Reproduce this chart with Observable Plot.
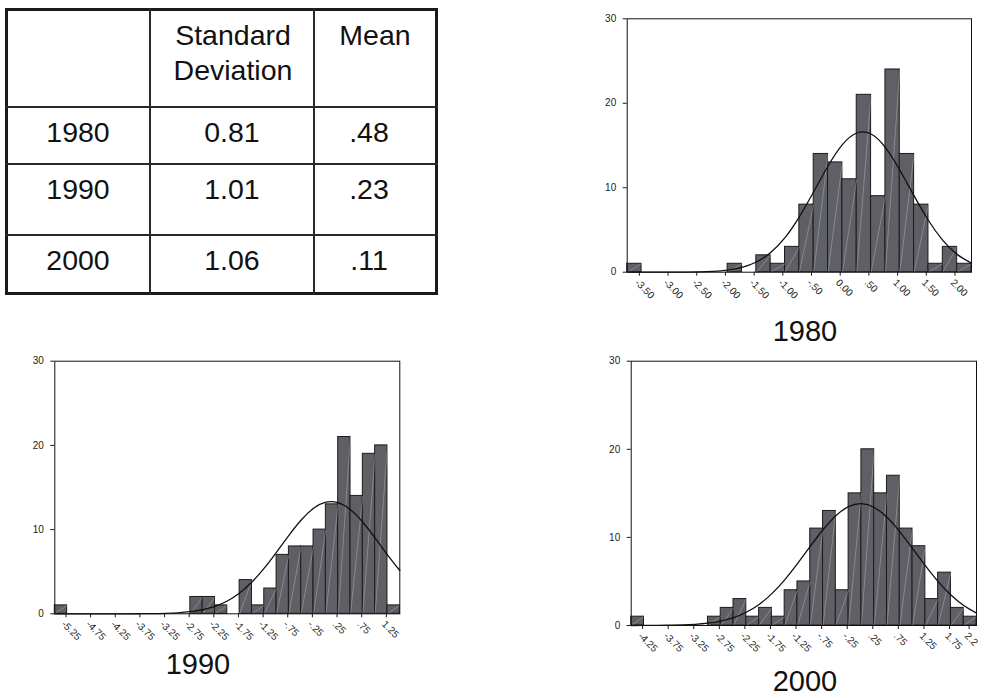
<!DOCTYPE html>
<html>
<head>
<meta charset="utf-8">
<script src="https://cdn.jsdelivr.net/npm/d3@7"></script>
<script src="https://cdn.jsdelivr.net/npm/@observablehq/plot@0.6"></script>
<style>
  html, body { margin: 0; padding: 0; background: #fff; }
  body { font-family: "Liberation Sans", Arial, Helvetica, sans-serif; color: #111; }
  #page { position: relative; width: 986px; height: 698px; overflow: hidden; background: #fff; }
  #tbl { position: absolute; left: 5px; top: 8px; width: 433px; height: 287px; box-sizing: border-box; border: 3px solid #1a1a1a; }
  .vline { position: absolute; top: 8px; height: 287px; width: 1.5px; background: #2a2a2a; }
  .hline { position: absolute; left: 5px; width: 433px; height: 1.5px; background: #2a2a2a; }
  .cell { position: absolute; font-size: 28.5px; line-height: 35px; text-align: center; white-space: nowrap; width: 200px; }
  .yearlab { position: absolute; font-size: 29px; line-height: 29px; width: 200px; text-align: center; }
</style>
</head>
<body>
<div id="page"></div>
<script>
// ---- table data ----
const years = ["1980", "1990", "2000"];
const stdDevs = ["0.81", "1.01", "1.06"];
const means = [".48", ".23", ".11"];
const headerSD = ["Standard", "Deviation"];
const headerMean = "Mean";

// ---- histogram data (bin width 0.25) ----
const binWidth = 0.25;

const centers1980 = [-3.5,-3.25,-3,-2.75,-2.5,-2.25,-2,-1.75,-1.5,-1.25,-1,-0.75,-0.5,-0.25,0,0.25,0.5,0.75,1,1.25,1.5,1.75,2,2.25];
const counts1980  = [1,0,0,0,0,0,0,1,0,2,1,3,8,14,13,11,21,9,24,14,8,1,3,1];
const ticks1980   = [-3.5,-3,-2.5,-2,-1.5,-1,-0.5,0,0.5,1,1.5,2];
const labels1980  = ["-3.50","-3.00","-2.50","-2.00","-1.50","-1.00","-.50","0.00",".50","1.00","1.50","2.00"];
const curveX1980  = [-3.625,-3.375,-3.125,-2.875,-2.625,-2.375,-2.125,-1.875,-1.625,-1.375,-1.125,-0.875,-0.625,-0.375,-0.125,0.125,0.375,0.625,0.875,1.125,1.375,1.625,1.875,2.125,2.375];
const curveY1980  = [0,0,0,0,0.01,0.03,0.09,0.24,0.57,1.21,2.33,4.10,6.56,9.52,12.57,15.10,16.48,16.36,14.76,12.10,9.03,6.12,3.77,2.11,1.08];

const centers1990 = [-5.25,-5,-4.75,-4.5,-4.25,-4,-3.75,-3.5,-3.25,-3,-2.75,-2.5,-2.25,-2,-1.75,-1.5,-1.25,-1,-0.75,-0.5,-0.25,0,0.25,0.5,0.75,1,1.25,1.5];
const counts1990  = [1,0,0,0,0,0,0,0,0,0,0,2,2,1,0,4,1,3,7,8,8,10,13,21,14,19,20,1];
const ticks1990   = [-5.25,-4.75,-4.25,-3.75,-3.25,-2.75,-2.25,-1.75,-1.25,-0.75,-0.25,0.25,0.75,1.25];
const labels1990  = ["-5.25","-4.75","-4.25","-3.75","-3.25","-2.75","-2.25","-1.75","-1.25","-.75","-.25",".25",".75","1.25"];
const curveX1990  = [-5.375,-5.125,-4.875,-4.625,-4.375,-4.125,-3.875,-3.625,-3.375,-3.125,-2.875,-2.625,-2.375,-2.125,-1.875,-1.625,-1.375,-1.125,-0.875,-0.625,-0.375,-0.125,0.125,0.375,0.625,0.875,1.125,1.375,1.625];
const curveY1990  = [0,0,0,0,0,0,0,0.01,0.02,0.05,0.12,0.25,0.48,0.88,1.52,2.47,3.77,5.42,7.33,9.32,11.14,12.53,13.26,13.19,12.35,10.87,9.00,7.01,5.14];

const centers2000 = [-4.25,-4,-3.75,-3.5,-3.25,-3,-2.75,-2.5,-2.25,-2,-1.75,-1.5,-1.25,-1,-0.75,-0.5,-0.25,0,0.25,0.5,0.75,1,1.25,1.5,1.75,2,2.25];
const counts2000  = [1,0,0,0,0,0,1,2,3,1,2,1,4,5,11,13,4,15,20,15,17,11,9,3,6,2,1];
const ticks2000   = [-4.25,-3.75,-3.25,-2.75,-2.25,-1.75,-1.25,-0.75,-0.25,0.25,0.75,1.25,1.75,2.25];
const labels2000  = ["-4.25","-3.75","-3.25","-2.75","-2.25","-1.75","-1.25","-.75","-.25",".25",".75","1.25","1.75","2.2"];
const curveX2000  = [-4.375,-4.125,-3.875,-3.625,-3.375,-3.125,-2.875,-2.625,-2.375,-2.125,-1.875,-1.625,-1.375,-1.125,-0.875,-0.625,-0.375,-0.125,0.125,0.375,0.625,0.875,1.125,1.375,1.625,1.875,2.125,2.375];
const curveY2000  = [0,0.01,0.01,0.03,0.06,0.13,0.26,0.50,0.89,1.50,2.39,3.62,5.18,7.02,8.98,10.87,12.46,13.49,13.83,13.40,12.29,10.66,8.74,6.79,4.98,3.46,2.27,1.41];

const yTicks = [0, 10, 20, 30];

const page = document.getElementById("page");

// ---- table ----
const tbl = document.createElement("div");
tbl.id = "tbl";
page.appendChild(tbl);
[150, 314].forEach(x => { const v = document.createElement("div"); v.className = "vline"; v.style.left = (x - 0.75) + "px"; page.appendChild(v); });
[107, 164, 235].forEach(y => { const h = document.createElement("div"); h.className = "hline"; h.style.top = (y - 0.75) + "px"; page.appendChild(h); });

function cell(text, cx, top) {
  const d = document.createElement("div");
  d.className = "cell";
  d.textContent = text;
  d.style.left = (cx - 100) + "px";
  d.style.top = top + "px";
  page.appendChild(d);
}
cell(headerSD[0], 233, 18.2);
cell(headerSD[1], 233, 53.2);
cell(headerMean, 375, 17.8);
const rowTops = [115.2, 171.8, 242.6];
years.forEach((y, i) => {
  cell(y, 78, rowTops[i]);
  cell(stdDevs[i], 232, rowTops[i]);
  cell(means[i], 369, rowTops[i]);
});

// ---- histograms ----
function hist(o) {
  const bars = o.centers.map((c, i) => ({x1: c - binWidth / 2, x2: c + binWidth / 2, y: o.counts[i]})).filter(d => d.y > 0);
  const curve = o.curveX.map((x, i) => ({x, y: o.curveY[i]}));
  const labMap = new Map(o.ticks.map((t, i) => [t, o.labels[i]]));
  const axisOpts = {tickSize: 4, tickPadding: 2, tickRotate: 45, textAnchor: "start", lineAnchor: "top", fontSize: 10, fill: "#1a1a1a", tickFormat: d => labMap.get(d)};
  const mainTicks = o.edgeLast ? o.ticks.slice(0, -1) : o.ticks;
  const marks = [
    Plot.rectY(bars, {x1: "x1", x2: "x2", y: "y", fill: "#5f5f66", stroke: "#1c1c1c", strokeWidth: 1}),
    Plot.link(bars, {x1: "x1", y1: 0, x2: "x2", y2: "y", stroke: "#c9c9cd", strokeWidth: 0.6, strokeOpacity: 0.65}),
    Plot.line(curve, {x: "x", y: "y", curve: "natural", stroke: "#111", strokeWidth: 1.3}),
    Plot.frame({stroke: "#111", strokeWidth: 1}),
    Plot.axisY(yTicks, {tickSize: 4, tickPadding: 7, fontSize: 10, fill: "#1a1a1a"}),
    Plot.axisX(mainTicks, {...axisOpts, dx: 5})
  ];
  if (o.edgeLast) marks.push(Plot.axisX(o.ticks.slice(-1), {...axisOpts, dx: -1}));
  const svg = Plot.plot({
    width: o.width, height: o.height,
    marginLeft: o.ml, marginRight: o.mr, marginTop: o.mt, marginBottom: o.mb,
    x: {domain: o.domain, label: null},
    y: {domain: [0, 30], label: null},
    style: {fontFamily: "Liberation Sans, Arial, Helvetica, sans-serif", fontSize: "10px", color: "#1a1a1a", background: "transparent"},
    marks
  });
  svg.style.position = "absolute";
  svg.style.left = o.left + "px";
  svg.style.top = o.top + "px";
  svg.style.maxWidth = "none";
  page.appendChild(svg);
}

hist({centers: centers1980, counts: counts1980, ticks: ticks1980, labels: labels1980, curveX: curveX1980, curveY: curveY1980,
  domain: [-3.625, 2.375], left: 590, top: 0, width: 396, height: 310, ml: 36.7, mr: 15, mt: 18.3, mb: 38.3});
hist({centers: centers1990, counts: counts1990, ticks: ticks1990, labels: labels1990, curveX: curveX1990, curveY: curveY1990,
  domain: [-5.375, 1.625], left: 0, top: 330, width: 420, height: 320, ml: 54.3, mr: 20.7, mt: 30.7, mb: 36.7});
hist({centers: centers2000, counts: counts2000, ticks: ticks2000, labels: labels2000, curveX: curveX2000, curveY: curveY2000,
  domain: [-4.375, 2.375], left: 580, top: 330, width: 406, height: 340, ml: 50.7, mr: 10, mt: 30.7, mb: 45, edgeLast: true});

// ---- year captions ----
function yearLabel(text, cx, baseline) {
  const d = document.createElement("div");
  d.className = "yearlab";
  d.textContent = text;
  d.style.left = (cx - 100) + "px";
  d.style.top = (baseline - 24.6) + "px";
  page.appendChild(d);
}
yearLabel(years[0], 805, 342);
yearLabel(years[1], 198, 675);
yearLabel(years[2], 805, 691.5);
</script>
</body>
</html>
